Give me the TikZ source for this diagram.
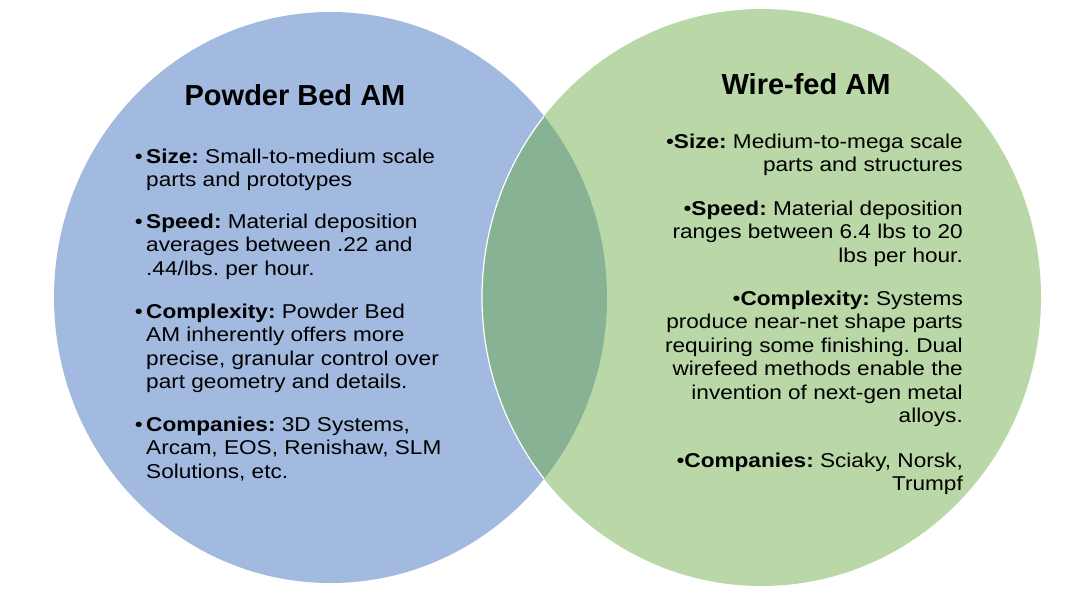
\documentclass[tikz,border=0pt]{standalone}
\usepackage{fontspec}
\setmainfont{Liberation Sans}
\newfontfamily\bodyfont[FakeStretch=1.13]{Liberation Sans}
\definecolor{pbblue}{RGB}{162,185,224}
\definecolor{wfgreen}{RGB}{185,215,167}
\definecolor{ovgreen}{RGB}{135,178,148}
\tikzset{
  titletext/.style={inner sep=0pt, anchor=base, font=\fontsize{29}{34}\selectfont\bfseries},
  lefttext/.style={inner sep=0pt, anchor=north west, align=left, font=\bodyfont\fontsize{20}{23.5}\selectfont\frenchspacing},
  righttext/.style={inner sep=0pt, anchor=north east, align=right, font=\bodyfont\fontsize{20}{23.5}\selectfont\frenchspacing},
}
\newcommand{\lbul}{\llap{•\hspace{3.5pt}}}
\begin{document}
\begin{tikzpicture}[x=1pt,y=-1pt]
\useasboundingbox (0,0) rectangle (1090,595);
% circles
\fill[pbblue] (330.5,297.5) ellipse [x radius=276.5pt, y radius=285.5pt];
\fill[wfgreen] (761.5,297.5) ellipse [x radius=279.5pt, y radius=288.5pt];
\begin{scope}
  \clip (330.5,297.5) ellipse [x radius=276.5pt, y radius=285.5pt];
  \fill[ovgreen] (761.5,297.5) ellipse [x radius=279.5pt, y radius=288.5pt];
  \draw[white, line width=1.2pt] (761.5,297.5) ellipse [x radius=279.5pt, y radius=288.5pt];
\end{scope}
% titles
\node[titletext] (pbtitle) at (295,105) {Powder Bed AM};
\node[titletext] (wftitle) at (806,94) {Wire-fed AM};
% left text
\node[lefttext] (lsize) at (146,148.5) {\lbul\textbf{Size:} Small-to-medium scale\\parts and prototypes};
\node[lefttext] (lspeed) at (146,213.5) {\lbul\textbf{Speed:} Material deposition\\averages between .22 and\\.44/lbs. per hour.};
\node[lefttext] (lcomplex) at (146,303.5) {\lbul\textbf{Complexity:} Powder Bed\\AM inherently offers more\\precise, granular control over\\part geometry and details.};
\node[lefttext] (lcomp) at (146,416.5) {\lbul\textbf{Companies:} 3D Systems,\\Arcam, EOS, Renishaw, SLM\\Solutions, etc.};
% right text
\node[righttext] (rsize) at (963,133.5) {•\textbf{Size:} Medium-to-mega scale\\parts and structures};
\node[righttext] (rspeed) at (963,200.5) {•\textbf{Speed:} Material deposition\\ranges between 6.4 lbs to 20\\lbs per hour.};
\node[righttext] (rcomplex) at (963,290.5) {•\textbf{Complexity:} Systems\\produce near-net shape parts\\requiring some finishing. Dual\\wirefeed methods enable the\\invention of next-gen metal\\alloys.};
\node[righttext] (rcomp) at (963,452.5) {•\textbf{Companies:} Sciaky, Norsk,\\Trumpf};
\end{tikzpicture}
\end{document}
